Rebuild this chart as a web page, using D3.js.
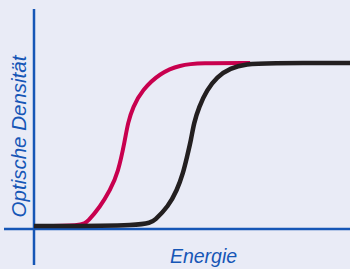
<!DOCTYPE html>
<html>
<head>
<meta charset="utf-8">
<script src="https://cdn.jsdelivr.net/npm/d3@7"></script>
<style>
  html, body { margin: 0; padding: 0; background: #e9ebf6; }
  svg { display: block; }
</style>
</head>
<body>
<svg id="chart" width="350" height="269"></svg>
<script>
// energy (0-100) and optical density (0-1)
var redEnergy  = [0, 15.2, 17.1, 20.9, 24.1, 26.6, 28.8, 29.7, 31.3, 34.2, 39.9, 46.2, 52.5, 68.4];
var redDensity = [0, 0, 0.03, 0.117, 0.221, 0.325, 0.528, 0.632, 0.73, 0.834, 0.939, 0.988, 1, 1];

var blackEnergy  = [0, 35.8, 38.3, 42.4, 45.3, 47.2, 48.4, 49.7, 50.6, 52.2, 54.7, 57.9, 62.0, 67.4, 73.1, 100];
var blackDensity = [0, 0, 0.037, 0.117, 0.221, 0.325, 0.423, 0.528, 0.632, 0.73, 0.834, 0.914, 0.969, 0.994, 1, 1];

var xLabel = "Energie";
var yLabel = "Optische Densität";

var svg = d3.select("#chart");
var blue = "#1656b6";

var x = d3.scaleLinear().domain([0, 100]).range([34, 350]);
var y = d3.scaleLinear().domain([0, 1]).range([226, 63]);

var line = d3.line()
    .x(function(d) { return x(d[0]); })
    .y(function(d) { return y(d[1]); })
    .curve(d3.curveBasis);

var red = d3.zip(redEnergy, redDensity);
var black = d3.zip(blackEnergy, blackDensity);

// axes
svg.append("line").attr("x1", x(0)).attr("x2", x(0)).attr("y1", 9).attr("y2", 265)
    .attr("stroke", blue).attr("stroke-width", 2.5)
svg.append("line").attr("x1", 4).attr("x2", 350).attr("y1", y(0) + 3).attr("y2", y(0) + 3)
    .attr("stroke", blue).attr("stroke-width", 2.5)

// curves
svg.append("path").datum(red).attr("d", line)
    .attr("fill", "none").attr("stroke", "#c8004e").attr("stroke-width", 4)
svg.append("path").datum(black).attr("d", line)
    .attr("fill", "none").attr("stroke", "#231f20").attr("stroke-width", 4.5)

// labels
svg.append("text").attr("x", 203.5).attr("y", 263).text(xLabel)
    .attr("text-anchor", "middle").style("font-family", "Liberation Sans, Arial, sans-serif")
    .style("font-style", "italic").style("font-size", "19.5px").style("fill", blue)
svg.append("text").attr("transform", "translate(25.5,136.5) rotate(-90)").text(yLabel)
    .attr("text-anchor", "middle").style("font-family", "Liberation Sans, Arial, sans-serif")
    .style("font-style", "italic").style("font-size", "20.5px").style("fill", blue)
</script>
</body>
</html>
